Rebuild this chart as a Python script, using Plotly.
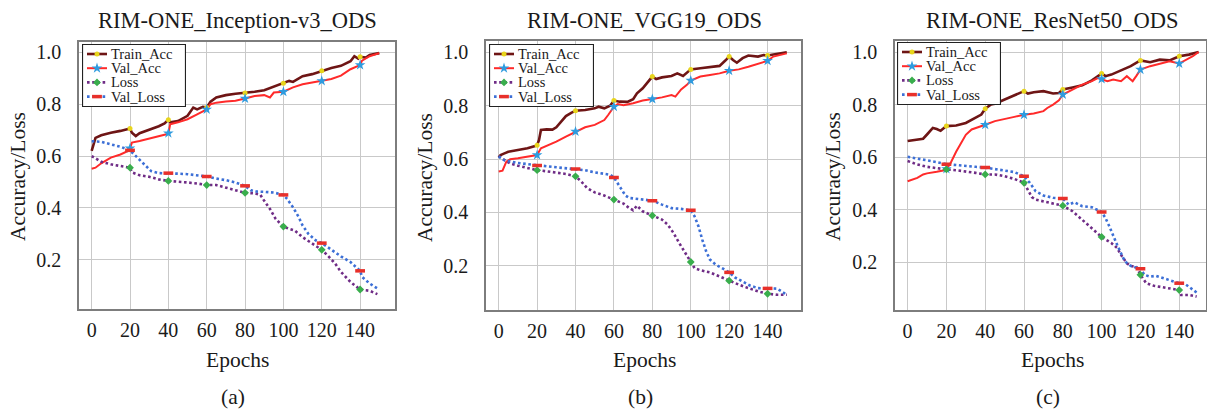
import plotly.graph_objects as go

# ---------------- data ----------------
EPOCH_TICKS = [0, 20, 40, 60, 80, 100, 120, 140]
ACC_TICKS = [0.2, 0.4, 0.6, 0.8, 1.0]
MARK_EPOCHS = [20, 40, 60, 80, 100, 120, 140]
TITLES = ["RIM-ONE_Inception-v3_ODS", "RIM-ONE_VGG19_ODS", "RIM-ONE_ResNet50_ODS"]
SUB_LABELS = ["(a)", "(b)", "(c)"]
SERIES_NAMES = ["Train_Acc", "Val_Acc", "Loss", "Val_Loss"]

# Panel (a) Inception-v3
A_TRAIN_X = [0, 2, 5, 10, 15, 19, 20, 21, 23, 25, 30, 35, 38, 40, 41, 45, 50, 53, 55, 58, 60, 62, 65, 70, 75,
             80, 85, 90, 95, 100, 103, 105, 110, 115, 120, 125, 130, 135, 137, 139, 140, 143, 145, 150]
A_TRAIN_Y = [0.62, 0.67, 0.68, 0.69, 0.697, 0.703, 0.706, 0.69, 0.677, 0.688, 0.70, 0.715, 0.726, 0.74, 0.73,
             0.735, 0.755, 0.787, 0.78, 0.79, 0.787, 0.81, 0.826, 0.835, 0.84, 0.843, 0.848, 0.854, 0.867, 0.881,
             0.89, 0.886, 0.908, 0.916, 0.929, 0.94, 0.948, 0.966, 0.985, 0.976, 0.983, 0.98, 0.99, 0.997]
A_VAL_X = [0, 2, 5, 10, 15, 19, 20, 21, 25, 30, 35, 39, 40, 41, 45, 50, 55, 60, 62, 65, 70, 75, 80, 85, 90,
           93, 95, 100, 105, 110, 115, 120, 125, 130, 135, 139, 140, 141, 145, 150]
A_VAL_Y = [0.551, 0.555, 0.572, 0.594, 0.606, 0.62, 0.63, 0.652, 0.658, 0.667, 0.675, 0.684, 0.688, 0.723, 0.73,
           0.742, 0.761, 0.78, 0.80, 0.806, 0.81, 0.813, 0.822, 0.832, 0.835, 0.826, 0.845, 0.848, 0.865, 0.877,
           0.884, 0.89, 0.897, 0.91, 0.935, 0.948, 0.951, 0.968, 0.985, 0.997]
A_LOSS_X = [0, 5, 10, 15, 20, 21, 25, 30, 35, 40, 45, 50, 55, 60, 65, 70, 75, 80, 85, 88, 90, 93, 96, 100, 103,
            106, 110, 115, 120, 123, 127, 130, 135, 140, 145, 149]
A_LOSS_Y = [0.60, 0.578, 0.568, 0.562, 0.555, 0.537, 0.526, 0.52, 0.51, 0.504, 0.502, 0.498, 0.494, 0.488, 0.488,
            0.479, 0.468, 0.458, 0.456, 0.45, 0.427, 0.396, 0.357, 0.328, 0.319, 0.312, 0.287, 0.261, 0.238, 0.217,
            0.185, 0.153, 0.114, 0.085, 0.08, 0.067]
A_VLOSS_X = [0, 5, 10, 15, 20, 25, 28, 31, 35, 40, 45, 50, 55, 60, 65, 70, 75, 80, 83, 86, 90, 95, 100, 102, 105,
             108, 110, 113, 117, 120, 123, 126, 130, 135, 140, 141, 145, 149]
A_VLOSS_Y = [0.657, 0.655, 0.645, 0.636, 0.622, 0.587, 0.562, 0.542, 0.534, 0.534, 0.532, 0.53, 0.526, 0.521, 0.513,
             0.507, 0.498, 0.485, 0.468, 0.463, 0.462, 0.459, 0.45, 0.434, 0.402, 0.364, 0.332, 0.30, 0.274, 0.264,
             0.249, 0.232, 0.213, 0.191, 0.157, 0.134, 0.108, 0.089]

# Panel (b) VGG19
B_TRAIN_X = [0, 1, 3, 5, 10, 15, 19, 20, 21, 22, 25, 28, 30, 33, 35, 38, 40, 45, 50, 52, 55, 58, 60, 63, 67,
             70, 72, 75, 78, 80, 82, 85, 90, 93, 96, 100, 105, 110, 115, 118, 120, 122, 124, 127, 130, 135, 138,
             140, 145, 150]
B_TRAIN_Y = [0.606, 0.615, 0.621, 0.627, 0.634, 0.64, 0.649, 0.652, 0.671, 0.709, 0.711, 0.71, 0.719, 0.746, 0.761,
             0.774, 0.781, 0.784, 0.79, 0.796, 0.79, 0.80, 0.819, 0.815, 0.814, 0.824, 0.846, 0.865, 0.89, 0.909,
             0.90, 0.906, 0.911, 0.921, 0.911, 0.936, 0.94, 0.944, 0.949, 0.969, 0.984, 0.971, 0.961, 0.978, 0.988,
             0.984, 0.99, 0.988, 0.993, 1.0]
B_VAL_X = [0, 2, 4, 6, 10, 15, 19, 20, 22, 25, 30, 35, 40, 45, 50, 55, 57, 60, 62, 65, 70, 75, 80, 85, 90,
           92, 95, 98, 100, 105, 110, 115, 120, 125, 130, 135, 140, 143, 146, 150]
B_VAL_Y = [0.553, 0.556, 0.59, 0.599, 0.603, 0.609, 0.611, 0.615, 0.64, 0.649, 0.665, 0.684, 0.703, 0.719, 0.728,
           0.746, 0.765, 0.796, 0.806, 0.802, 0.809, 0.819, 0.825, 0.831, 0.84, 0.834, 0.861, 0.878, 0.894, 0.909,
           0.915, 0.921, 0.931, 0.936, 0.946, 0.956, 0.968, 0.984, 0.988, 0.996]
B_LOSS_X = [0, 3, 6, 10, 15, 20, 25, 30, 35, 40, 43, 46, 50, 55, 60, 65, 68, 70, 72, 75, 80, 85, 88, 91, 94,
            97, 100, 102, 105, 110, 115, 120, 125, 130, 135, 140, 145, 150]
B_LOSS_Y = [0.61, 0.595, 0.583, 0.575, 0.566, 0.558, 0.554, 0.55, 0.544, 0.535, 0.516, 0.491, 0.475, 0.463, 0.448,
            0.433, 0.416, 0.408, 0.425, 0.404, 0.388, 0.373, 0.354, 0.323, 0.285, 0.248, 0.214, 0.191, 0.183, 0.175,
            0.16, 0.144, 0.129, 0.116, 0.104, 0.095, 0.091, 0.091]
B_VLOSS_X = [0, 3, 6, 10, 15, 20, 25, 30, 35, 40, 45, 50, 55, 58, 60, 62, 64, 66, 68, 72, 76, 80, 85, 90, 95,
             100, 102, 104, 106, 108, 110, 113, 117, 120, 123, 127, 131, 135, 140, 145, 150]
B_VLOSS_Y = [0.61, 0.595, 0.591, 0.585, 0.581, 0.576, 0.573, 0.569, 0.565, 0.563, 0.558, 0.55, 0.545, 0.541, 0.531,
             0.51, 0.485, 0.463, 0.454, 0.451, 0.448, 0.444, 0.429, 0.416, 0.413, 0.408, 0.385, 0.348, 0.298, 0.254,
             0.223, 0.204, 0.188, 0.175, 0.156, 0.141, 0.125, 0.116, 0.115, 0.114, 0.091]

# Panel (c) ResNet50
C_TRAIN_X = [0, 5, 8, 10, 13, 15, 17, 20, 25, 30, 35, 38, 40, 43, 45, 50, 55, 60, 62, 65, 70, 75, 78, 80, 85,
             90, 95, 100, 102, 105, 110, 115, 120, 125, 130, 135, 140, 145, 150]
C_TRAIN_Y = [0.661, 0.667, 0.67, 0.686, 0.711, 0.707, 0.70, 0.718, 0.72, 0.73, 0.749, 0.762, 0.784, 0.80, 0.803,
             0.819, 0.832, 0.851, 0.842, 0.847, 0.851, 0.842, 0.844, 0.857, 0.865, 0.873, 0.892, 0.918, 0.908, 0.914,
             0.93, 0.946, 0.968, 0.961, 0.971, 0.968, 0.984, 0.99, 1.0]
C_VAL_X = [0, 5, 8, 10, 15, 19, 20, 21, 22, 25, 28, 30, 33, 36, 40, 45, 50, 55, 60, 65, 70, 72, 75, 78, 80,
           83, 85, 90, 95, 98, 100, 103, 106, 110, 113, 116, 118, 120, 125, 130, 135, 140, 143, 145, 147, 150]
C_VAL_Y = [0.508, 0.521, 0.534, 0.538, 0.544, 0.55, 0.555, 0.565, 0.575, 0.62, 0.66, 0.685, 0.705, 0.714, 0.723,
           0.737, 0.746, 0.753, 0.761, 0.766, 0.775, 0.787, 0.80, 0.816, 0.838, 0.851, 0.857, 0.876, 0.889, 0.901,
           0.897, 0.889, 0.895, 0.889, 0.908, 0.889, 0.91, 0.933, 0.946, 0.956, 0.965, 0.956, 0.968, 0.977, 0.984, 1.0]
C_LOSS_X = [0, 5, 10, 15, 20, 25, 30, 35, 40, 45, 50, 55, 60, 62, 64, 66, 70, 75, 80, 85, 90, 95, 100, 105, 108,
            110, 113, 115, 118, 120, 123, 127, 132, 138, 140, 141, 145, 149]
C_LOSS_Y = [0.585, 0.572, 0.563, 0.557, 0.553, 0.55, 0.546, 0.54, 0.534, 0.534, 0.527, 0.517, 0.502, 0.476, 0.448,
            0.438, 0.432, 0.425, 0.415, 0.394, 0.362, 0.33, 0.296, 0.273, 0.254, 0.228, 0.196, 0.186, 0.181, 0.152,
            0.12, 0.11, 0.104, 0.098, 0.094, 0.075, 0.075, 0.069]
C_VLOSS_X = [0, 5, 10, 15, 20, 25, 30, 35, 40, 45, 50, 55, 60, 63, 66, 70, 75, 80, 83, 86, 90, 95, 100, 102, 104,
             106, 108, 110, 112, 115, 120, 122, 125, 128, 132, 136, 140, 143, 146, 150]
C_VLOSS_Y = [0.601, 0.595, 0.587, 0.581, 0.573, 0.569, 0.566, 0.563, 0.56, 0.555, 0.55, 0.543, 0.527, 0.502, 0.47,
             0.454, 0.445, 0.442, 0.419, 0.428, 0.413, 0.409, 0.391, 0.368, 0.336, 0.298, 0.266, 0.234, 0.203, 0.186,
             0.175, 0.152, 0.145, 0.148, 0.139, 0.132, 0.12, 0.117, 0.101, 0.079]

PANELS = [
    [(A_TRAIN_X, A_TRAIN_Y), (A_VAL_X, A_VAL_Y), (A_LOSS_X, A_LOSS_Y), (A_VLOSS_X, A_VLOSS_Y)],
    [(B_TRAIN_X, B_TRAIN_Y), (B_VAL_X, B_VAL_Y), (B_LOSS_X, B_LOSS_Y), (B_VLOSS_X, B_VLOSS_Y)],
    [(C_TRAIN_X, C_TRAIN_Y), (C_VAL_X, C_VAL_Y), (C_LOSS_X, C_LOSS_Y), (C_VLOSS_X, C_VLOSS_Y)],
]

# ---------------- styling / layout ----------------
W, H = 1207, 410
FONT = "Liberation Serif"
TXT = "#1a1a1a"

LINE_STYLES = [
    dict(color="#6E1515", width=2.6, dash="solid"),
    dict(color="#FF2A2A", width=2.0, dash="solid"),
    dict(color="#6F2C86", width=2.6, dash="2.6px,2.6px"),
    dict(color="#3C6FD6", width=2.6, dash="2.6px,2.6px"),
]
MARKER_STYLES = [
    dict(symbol="circle", size=5, color="#E8D51C", line=dict(width=0)),
    dict(symbol="star", size=8, color="#2E9BDF", line=dict(width=0)),
    dict(symbol="diamond", size=6, color="#39AE4C", line=dict(width=0)),
    dict(symbol="line-ew", size=7, color="#E8302A", line=dict(width=3.5, color="#E8302A")),
]

# pixel boxes of the three plot frames: (left, right, top, bottom)
FRAMES = [(79, 395, 42, 309), (486, 801, 40.7, 310), (895, 1206, 40.7, 310)]
XRANGES = [[-6.6, 158.2], [-6.6, 157.4], [-6.5, 153.8]]
YRANGES = [[0.0098, 1.040], [0.034, 1.0435], [0.018, 1.043]]
# legend boxes in pixels: (left, top, width, height)
LEGEND_BOX = [(82, 44, 104, 63), (489, 44, 105, 63), (897, 42, 104, 63)]
LEG_ROWS = [10, 24.2, 38.4, 52.6]
YTITLE_X = [18, 425, 833]
CENTERS_X = [237, 644, 1052]

fig = go.Figure()
layout = dict(
    width=W, height=H, margin=dict(l=0, r=0, t=0, b=0),
    paper_bgcolor="white", plot_bgcolor="white",
    font=dict(family=FONT, color=TXT), annotations=[], shapes=[], showlegend=False,
)

for p, series in enumerate(PANELS):
    sfx = "" if p == 0 else str(p + 1)
    xa, ya = "x" + sfx, "y" + sfx
    for s, (xs, ys) in enumerate(series):
        fig.add_trace(go.Scatter(x=xs, y=ys, mode="lines", line=LINE_STYLES[s],
                                 xaxis=xa, yaxis=ya, showlegend=False, hoverinfo="skip"))
    for s, (xs, ys) in enumerate(series):
        # markers every 20 epochs (picked from the same readings)
        mx = [x for x in xs if x in MARK_EPOCHS]
        my = [y for x, y in zip(xs, ys) if x in MARK_EPOCHS]
        fig.add_trace(go.Scatter(x=mx, y=my, mode="markers", marker=MARKER_STYLES[s],
                                 xaxis=xa, yaxis=ya, showlegend=False, hoverinfo="skip"))

    l, r, t, b = FRAMES[p]
    axis_common = dict(
        showgrid=True, gridcolor="#C9C9C9", gridwidth=1.2, zeroline=False,
        showline=True, mirror=True, linecolor="#7D7D7D", linewidth=1.5,
        ticks="", tickfont=dict(family=FONT, size=20, color=TXT), fixedrange=True,
    )
    layout["xaxis" + sfx] = dict(
        axis_common, domain=[l / W, r / W], range=XRANGES[p], anchor=ya,
        tickvals=EPOCH_TICKS, ticklabelstandoff=2,
    )
    layout["yaxis" + sfx] = dict(
        axis_common, domain=[1 - b / H, 1 - t / H], range=YRANGES[p], anchor=xa,
        tickvals=ACC_TICKS, tickformat=".1f", ticklabelstandoff=12,
    )

    # ---- legend drawn on its own hidden pixel-unit axes ----
    lx, ly, lw, lh = LEGEND_BOX[p]
    lsfx = str(p + 4)
    lxa, lya = "x" + lsfx, "y" + lsfx
    layout["xaxis" + lsfx] = dict(domain=[lx / W, (lx + lw) / W], range=[0, lw], visible=False,
                                  fixedrange=True, anchor=lya)
    layout["yaxis" + lsfx] = dict(domain=[1 - (ly + lh) / H, 1 - ly / H], range=[lh, 0], visible=False,
                                  fixedrange=True, anchor=lxa)
    layout["shapes"].append(dict(type="rect", xref=lxa, yref=lya, x0=0.5, x1=lw - 0.5, y0=0.5, y1=lh - 0.5,
                                 line=dict(color="#222222", width=1.2), fillcolor="white", layer="below"))
    for s, name in enumerate(SERIES_NAMES):
        ry = LEG_ROWS[s]
        fig.add_trace(go.Scatter(x=[5, 25], y=[ry, ry], mode="lines", line=LINE_STYLES[s],
                                 xaxis=lxa, yaxis=lya, showlegend=False, hoverinfo="skip"))
        fig.add_trace(go.Scatter(x=[15], y=[ry], mode="markers", marker=MARKER_STYLES[s],
                                 xaxis=lxa, yaxis=lya, showlegend=False, hoverinfo="skip"))
        layout["annotations"].append(dict(text=name, x=27, y=ry, xref=lxa, yref=lya, showarrow=False,
                                          xanchor="left", yanchor="middle",
                                          font=dict(size=14.5, family=FONT, color=TXT)))

    anns = layout["annotations"]
    anns.append(dict(text=TITLES[p], x=CENTERS_X[p] / W, y=1 - 20 / H, xref="paper", yref="paper",
                     showarrow=False, xanchor="center", yanchor="middle", font=dict(size=22.5, family=FONT)))
    anns.append(dict(text="Epochs", x=CENTERS_X[p] / W, y=1 - 360 / H, xref="paper", yref="paper",
                     showarrow=False, xanchor="center", yanchor="middle", font=dict(size=21.5, family=FONT)))
    anns.append(dict(text="Accuracy/Loss", x=YTITLE_X[p] / W, y=1 - 177 / H, xref="paper", yref="paper",
                     showarrow=False, xanchor="center", yanchor="middle", textangle=-90,
                     font=dict(size=21.5, family=FONT)))
    anns.append(dict(text=SUB_LABELS[p], x=(CENTERS_X[p] - 4) / W, y=1 - 397 / H, xref="paper", yref="paper",
                     showarrow=False, xanchor="center", yanchor="middle", font=dict(size=21.5, family=FONT)))

fig.update_layout(**layout)
fig.write_html("out.html", config={"displayModeBar": False},
               post_script="document.body.style.margin='0px';")
